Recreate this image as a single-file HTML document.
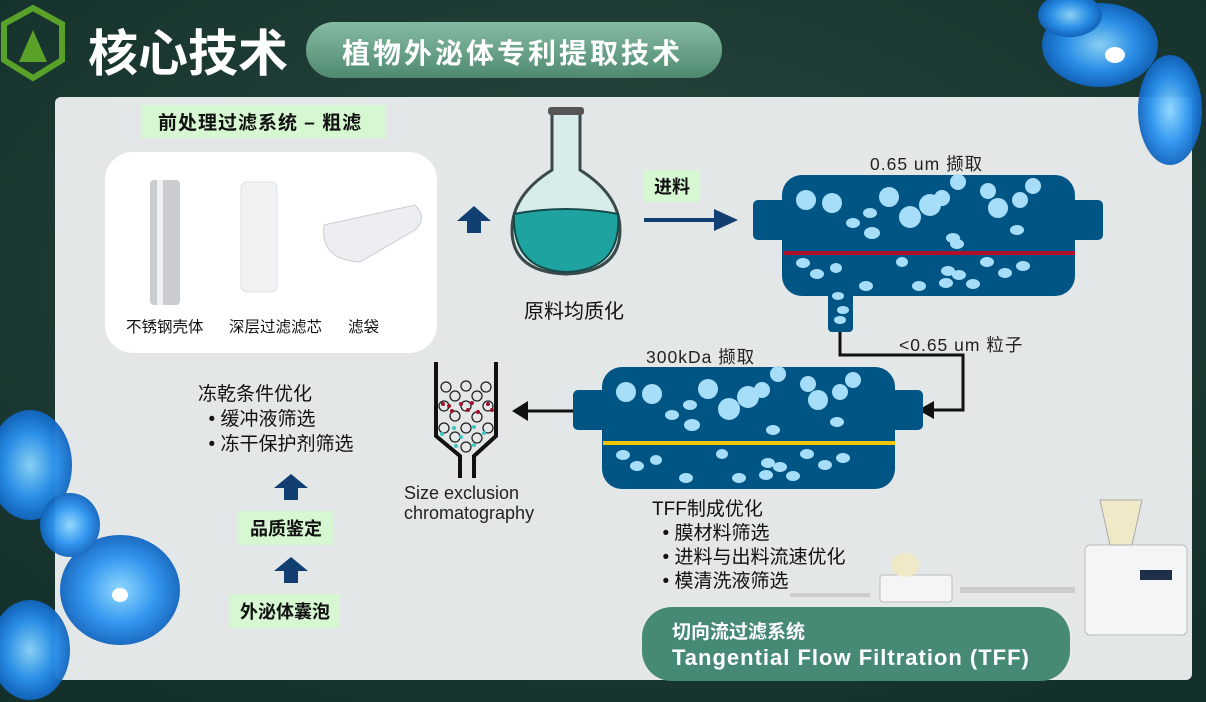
<!DOCTYPE html>
<html><head><meta charset="utf-8"><style>
*{margin:0;padding:0;box-sizing:border-box}
body{width:1206px;height:702px;overflow:hidden;background:#1c3a33;position:relative;font-family:"Liberation Sans","Noto Sans CJK SC",sans-serif}
.a{position:absolute;white-space:nowrap}
.g{background:#d6f7d2;font-weight:bold;color:#111}
.cj{font-family:"Noto Sans CJK SC",sans-serif}
</style></head><body>
<svg class="a" style="left:0;top:0" width="1206" height="702">
<defs><radialGradient id="bg" cx="50%" cy="40%" r="70%"><stop offset="0" stop-color="#2a4a42"/><stop offset="1" stop-color="#14302a"/></radialGradient>
<linearGradient id="pill" x1="0" y1="0" x2="0" y2="1"><stop offset="0" stop-color="#86bba3"/><stop offset="1" stop-color="#4f8a70"/></linearGradient>
<radialGradient id="orch" cx="50%" cy="50%" r="50%"><stop offset="0" stop-color="#8fd8ff"/><stop offset="0.6" stop-color="#2a93f0"/><stop offset="1" stop-color="#1266c0"/></radialGradient></defs>
<rect width="1206" height="702" fill="url(#bg)"/>
<polygon points="33,8 62,24 62,60 33,78 4,60 4,24" fill="none" stroke="#5aa12a" stroke-width="6"/>
<polygon points="33,30 47,62 19,62" fill="#5aa12a"/>
<rect x="306" y="22" width="416" height="56" rx="28" fill="url(#pill)"/>
<rect x="55" y="97" width="1137" height="583" rx="6" fill="#e4e7e7"/>
<g fill="url(#orch)" opacity="0.95">
<ellipse cx="1100" cy="45" rx="58" ry="42"/><ellipse cx="1170" cy="110" rx="32" ry="55"/><ellipse cx="1070" cy="15" rx="32" ry="22"/>
<ellipse cx="30" cy="465" rx="42" ry="55"/><ellipse cx="120" cy="590" rx="60" ry="55"/><ellipse cx="30" cy="650" rx="40" ry="50"/><ellipse cx="70" cy="525" rx="30" ry="32"/>
</g>
<ellipse cx="1115" cy="55" rx="10" ry="8" fill="#fff"/><ellipse cx="120" cy="595" rx="8" ry="7" fill="#fff"/>
<rect x="105" y="152" width="332" height="201" rx="28" fill="#fff"/>
<rect x="150" y="180" width="30" height="125" rx="4" fill="#c9cdd0"/><rect x="157" y="180" width="6" height="125" fill="#eef0f2"/>
<rect x="241" y="182" width="36" height="110" rx="6" fill="#f1f2f4" stroke="#dde0e3"/>
<path d="M324,225 L415,205 Q428,218 415,230 L360,262 Q320,260 324,225Z" fill="#eceef2" stroke="#c9ccd3"/>
<path d="M457,221 L474,206 L491,221 L481,221 L481,233 L467,233 L467,221Z" fill="#123f72"/>
<path d="M274,488 L291,474 L308,488 L298,488 L298,500 L284,500 L284,488Z" fill="#123f72"/>
<path d="M274,571 L291,557 L308,571 L298,571 L298,583 L284,583 L284,571Z" fill="#123f72"/>
<path d="M552,112 L552,170 Q512,195 512,230 Q512,272 566,274 Q620,272 620,230 Q620,195 580,170 L580,112Z" fill="#d8ecec" stroke="#3a4a4a" stroke-width="3"/>
<path d="M514,214 Q566,204 618,214 Q622,270 566,272 Q512,270 514,214Z" fill="#1fa3a0" stroke="#174a4a" stroke-width="2"/>
<rect x="548" y="107" width="36" height="8" rx="3" fill="#555"/>
<line x1="644" y1="220" x2="718" y2="220" stroke="#123f72" stroke-width="4"/>
<path d="M714,209 L738,220 L714,231Z" fill="#123f72"/>
<g fill="#005584">
<rect x="753" y="200" width="40" height="40" rx="5"/><rect x="1065" y="200" width="38" height="40" rx="5"/>
<rect x="782" y="175" width="293" height="121" rx="20"/><rect x="828" y="290" width="25" height="42" rx="4"/>
</g>
<line x1="783" y1="253" x2="1075" y2="253" stroke="#b0102a" stroke-width="4"/>
<g fill="#a6ddf8">
<circle cx="806" cy="200" r="10"/><circle cx="832" cy="203" r="10"/><circle cx="889" cy="197" r="10"/><circle cx="910" cy="217" r="11"/><circle cx="930" cy="205" r="11"/><circle cx="942" cy="198" r="8"/><circle cx="958" cy="182" r="8"/><circle cx="988" cy="191" r="8"/><circle cx="998" cy="208" r="10"/><circle cx="1020" cy="200" r="8"/><circle cx="1033" cy="186" r="8"/>
<ellipse cx="870" cy="213" rx="7" ry="5"/><ellipse cx="853" cy="223" rx="7" ry="5"/><ellipse cx="872" cy="233" rx="8" ry="6"/><ellipse cx="953" cy="238" rx="7" ry="5"/><ellipse cx="957" cy="244" rx="7" ry="5"/><ellipse cx="1017" cy="230" rx="7" ry="5"/>
<ellipse cx="803" cy="263" rx="7" ry="5"/><ellipse cx="817" cy="274" rx="7" ry="5"/><ellipse cx="836" cy="268" rx="6" ry="5"/><ellipse cx="866" cy="286" rx="7" ry="5"/><ellipse cx="902" cy="262" rx="6" ry="5"/><ellipse cx="919" cy="286" rx="7" ry="5"/><ellipse cx="948" cy="271" rx="7" ry="5"/><ellipse cx="959" cy="275" rx="7" ry="5"/><ellipse cx="946" cy="283" rx="7" ry="5"/><ellipse cx="973" cy="284" rx="7" ry="5"/><ellipse cx="987" cy="262" rx="7" ry="5"/><ellipse cx="1005" cy="273" rx="7" ry="5"/><ellipse cx="1023" cy="266" rx="7" ry="5"/>
<ellipse cx="838" cy="296" rx="6" ry="4"/><ellipse cx="843" cy="310" rx="6" ry="4"/><ellipse cx="840" cy="320" rx="6" ry="4"/>
</g>
<polyline points="840,332 840,355 963,355 963,410 930,410" fill="none" stroke="#111" stroke-width="3"/>
<path d="M934,401 L918,410 L934,419Z" fill="#111"/>
<g fill="#005584">
<rect x="573" y="390" width="40" height="40" rx="5"/><rect x="885" y="390" width="38" height="40" rx="5"/>
<rect x="602" y="367" width="293" height="122" rx="20"/>
</g>
<line x1="603" y1="443" x2="895" y2="443" stroke="#f0c400" stroke-width="4"/>
<g fill="#a6ddf8">
<circle cx="626" cy="392" r="10"/><circle cx="652" cy="394" r="10"/><circle cx="708" cy="389" r="10"/><circle cx="729" cy="409" r="11"/><circle cx="748" cy="397" r="11"/><circle cx="762" cy="390" r="8"/><circle cx="778" cy="374" r="8"/><circle cx="808" cy="384" r="8"/><circle cx="818" cy="400" r="10"/><circle cx="840" cy="392" r="8"/><circle cx="853" cy="380" r="8"/>
<ellipse cx="690" cy="405" rx="7" ry="5"/><ellipse cx="672" cy="415" rx="7" ry="5"/><ellipse cx="692" cy="425" rx="8" ry="6"/><ellipse cx="773" cy="430" rx="7" ry="5"/><ellipse cx="837" cy="422" rx="7" ry="5"/>
<ellipse cx="623" cy="455" rx="7" ry="5"/><ellipse cx="637" cy="466" rx="7" ry="5"/><ellipse cx="656" cy="460" rx="6" ry="5"/><ellipse cx="686" cy="478" rx="7" ry="5"/><ellipse cx="722" cy="454" rx="6" ry="5"/><ellipse cx="739" cy="478" rx="7" ry="5"/><ellipse cx="768" cy="463" rx="7" ry="5"/><ellipse cx="780" cy="467" rx="7" ry="5"/><ellipse cx="766" cy="475" rx="7" ry="5"/><ellipse cx="793" cy="476" rx="7" ry="5"/><ellipse cx="807" cy="454" rx="7" ry="5"/><ellipse cx="825" cy="465" rx="7" ry="5"/><ellipse cx="843" cy="458" rx="7" ry="5"/>
</g>
<line x1="573" y1="411" x2="525" y2="411" stroke="#111" stroke-width="3"/>
<path d="M528,401 L512,411 L528,421Z" fill="#111"/>
<polyline points="436,362 436,436 460,456 460,478" fill="none" stroke="#111" stroke-width="4"/>
<polyline points="496,362 496,436 474,456 474,478" fill="none" stroke="#111" stroke-width="4"/>
<g fill="none" stroke="#222" stroke-width="1.3">
<circle cx="446" cy="387" r="5"/><circle cx="466" cy="386" r="5"/><circle cx="486" cy="387" r="5"/><circle cx="455" cy="396" r="5"/><circle cx="477" cy="396" r="5"/><circle cx="444" cy="406" r="5"/><circle cx="466" cy="406" r="5"/><circle cx="488" cy="406" r="5"/><circle cx="455" cy="416" r="5"/><circle cx="477" cy="417" r="5"/><circle cx="444" cy="428" r="5"/><circle cx="466" cy="428" r="5"/><circle cx="488" cy="428" r="5"/><circle cx="455" cy="437" r="5"/><circle cx="477" cy="438" r="5"/><circle cx="466" cy="447" r="5"/>
</g>
<g fill="#a0102a"><circle cx="443" cy="404" r="2"/><circle cx="449" cy="406" r="2"/><circle cx="452" cy="411" r="2"/><circle cx="461" cy="404" r="2"/><circle cx="472" cy="403" r="2"/><circle cx="468" cy="410" r="2"/><circle cx="478" cy="412" r="2"/><circle cx="488" cy="404" r="2"/><circle cx="492" cy="410" r="2"/></g>
<g fill="#3cc8c0"><circle cx="454" cy="428" r="2"/><circle cx="474" cy="427" r="2"/><circle cx="442" cy="434" r="2"/><circle cx="484" cy="433" r="2"/><circle cx="461" cy="437" r="2"/><circle cx="456" cy="446" r="2"/><circle cx="474" cy="445" r="2"/></g>
<rect x="642" y="607" width="428" height="74" rx="30" fill="#468a75"/>
<rect x="880" y="575" width="72" height="27" rx="3" fill="#f4f5f6" stroke="#bbb"/><ellipse cx="905" cy="565" rx="14" ry="12" fill="#efe9c8"/>
<rect x="1085" y="545" width="102" height="90" rx="5" fill="#f4f5f6" stroke="#bbb"/><rect x="1140" y="570" width="32" height="10" fill="#1f2f4a"/>
<path d="M1100,500 L1142,500 L1132,545 L1110,545Z" fill="#efe9c8" stroke="#aaa"/>
<line x1="790" y1="595" x2="870" y2="595" stroke="#ccc" stroke-width="4"/><line x1="960" y1="590" x2="1075" y2="590" stroke="#ccc" stroke-width="6"/>
</svg>
<div class="a cj" style="left:88px;top:14px;font-size:50px;color:#fff;font-weight:bold;letter-spacing:0px">核心技术</div>
<div class="a" style="left:342px;top:32px;font-size:28px;color:#fff;font-weight:bold;letter-spacing:3px">植物外泌体专利提取技术</div>
<div class="a g" style="left:142px;top:105px;padding:3px 16px;font-size:19px;width:244px;letter-spacing:1px">前处理过滤系统 – 粗滤</div>
<div class="a" style="left:126px;top:315px;font-size:15.5px;color:#111">不锈钢壳体</div>
<div class="a" style="left:229px;top:315px;font-size:15.5px;color:#111">深层过滤滤芯</div>
<div class="a" style="left:348px;top:315px;font-size:15.5px;color:#111">滤袋</div>
<div class="a" style="left:524px;top:295px;font-size:20px;color:#111">原料均质化</div>
<div class="a g" style="left:644px;top:170px;padding:3px 10px;font-size:18px">进料</div>
<div class="a" style="left:870px;top:151px;font-size:17.5px;color:#222;letter-spacing:1px">0.65 um 撷取</div>
<div class="a" style="left:899px;top:332px;font-size:17.5px;color:#222;letter-spacing:1px">&lt;0.65 um 粒子</div>
<div class="a" style="left:646px;top:344px;font-size:17.5px;color:#222;letter-spacing:1px">300kDa 撷取</div>
<div class="a" style="left:404px;top:483px;font-size:18px;color:#222;line-height:20px">Size exclusion<br>chromatography</div>
<div class="a" style="left:652px;top:498px;font-size:19px;color:#111;line-height:24px">TFF制成优化<br>&nbsp;&nbsp;• 膜材料筛选<br>&nbsp;&nbsp;• 进料与出料流速优化<br>&nbsp;&nbsp;• 模清洗液筛选</div>
<div class="a" style="left:198px;top:382px;font-size:19px;color:#111;line-height:25px">冻乾条件优化<br>&nbsp;&nbsp;• 缓冲液筛选<br>&nbsp;&nbsp;• 冻干保护剂筛选</div>
<div class="a g" style="left:238px;top:511px;padding:4px 12px;font-size:18px">品质鉴定</div>
<div class="a g" style="left:230px;top:594px;padding:4px 10px;font-size:18px">外泌体囊泡</div>
<div class="a" style="left:672px;top:617px;font-size:19px;color:#fff;font-weight:bold">切向流过滤系统</div>
<div class="a" style="left:672px;top:645px;font-size:22px;color:#fff;letter-spacing:1px;font-weight:bold">Tangential Flow Filtration (TFF)</div>
</body></html>
